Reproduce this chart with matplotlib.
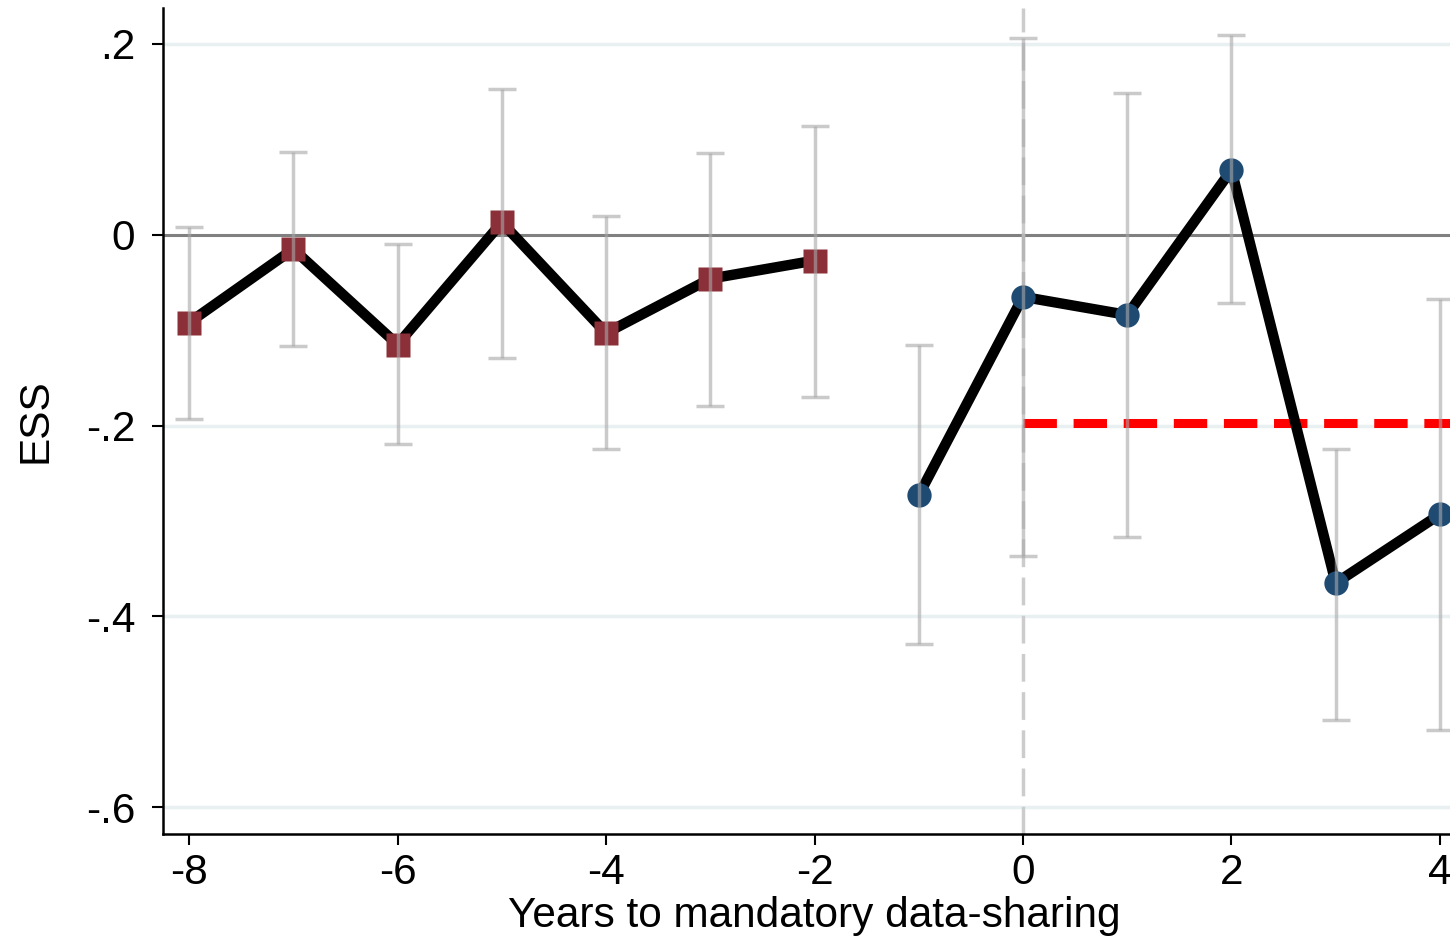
import matplotlib
matplotlib.use("Agg")
import matplotlib.pyplot as plt
import numpy as np

plt.rcParams['font.family'] = ['Liberation Sans', 'DejaVu Sans']
plt.rcParams['axes.unicode_minus'] = False

# Pre-period (squares)
pre_years = [-8, -7, -6, -5, -4, -3, -2]
pre_coef = [-0.092, -0.015, -0.115, 0.013, -0.103, -0.046, -0.027]
pre_hi = [0.008, 0.087, -0.010, 0.153, 0.020, 0.086, 0.114]
pre_lo = [-0.193, -0.117, -0.219, -0.129, -0.225, -0.179, -0.170]

# Post-period (circles)
post_years = [-1, 0, 1, 2, 3, 4]
post_coef = [-0.273, -0.065, -0.084, 0.068, -0.365, -0.293]
post_hi = [-0.116, 0.206, 0.149, 0.209, -0.224, -0.067]
post_lo = [-0.429, -0.337, -0.317, -0.072, -0.508, -0.519]

avg_effect = -0.197
yticks = [0.2, 0.0, -0.2, -0.4, -0.6]
yticklabels = ['.2', '0', '-.2', '-.4', '-.6']
xticks = [-8, -6, -4, -2, 0, 2, 4]

W, H = 1450, 941
fig = plt.figure(figsize=(W / 100, H / 100), dpi=100)
left, right = 163, 1466
top, bottom = 8, 834
ax = fig.add_axes([left / W, 1 - bottom / H, (right - left) / W, (bottom - top) / H])

ax.set_xlim(-8.25, 4.25)
ax.set_ylim(-0.628, 0.2377)

for y in yticks:
    if y != 0:
        ax.axhline(y, color='#e9f0f1', lw=2.5, zorder=0)
ax.axhline(0, color='#808080', lw=2.2, zorder=1)
ax.axvline(0, color='#cccccc', lw=2.5, ls=(0, (8, 3)), zorder=1)
ax.plot([0, 4.25], [avg_effect, avg_effect], color='#ff0000', lw=6.5,
        ls=(0, (3.7, 1.85)), zorder=3, solid_capstyle='butt')

ax.plot(pre_years, pre_coef, color='black', lw=7.5, zorder=4)
ax.plot(post_years, post_coef, color='black', lw=7.5, zorder=4)
ax.plot(pre_years, pre_coef, 's', color='#8b3039', ms=17, mec='none', zorder=5)
ax.plot(post_years, post_coef, 'o', color='#1f4a72', ms=17.5, mec='none', zorder=5)

for yrs, c, hi, lo in [(pre_years, pre_coef, pre_hi, pre_lo),
                       (post_years, post_coef, post_hi, post_lo)]:
    c = np.array(c)
    yerr = np.vstack([c - np.array(lo), np.array(hi) - c])
    ax.errorbar(yrs, c, yerr=yerr, fmt='none', ecolor='#a8a8a8', alpha=0.6,
                elinewidth=2.5, capsize=10, capthick=2.5, zorder=6)

ax.set_yticks(yticks)
ax.set_yticklabels(yticklabels)
ax.set_xticks(xticks)
ax.tick_params(axis='both', labelsize=30.5, length=8, width=1.5, direction='out')
ax.tick_params(axis='y', pad=12)
ax.tick_params(axis='x', pad=6)

for s in ['top', 'right']:
    ax.spines[s].set_visible(False)
for s in ['left', 'bottom']:
    ax.spines[s].set_linewidth(1.8)

ax.set_xlabel('Years to mandatory data-sharing', fontsize=30.5, labelpad=2)
ax.set_ylabel('ESS', fontsize=30.5, labelpad=22)

fig.savefig('out.png', dpi=100)
